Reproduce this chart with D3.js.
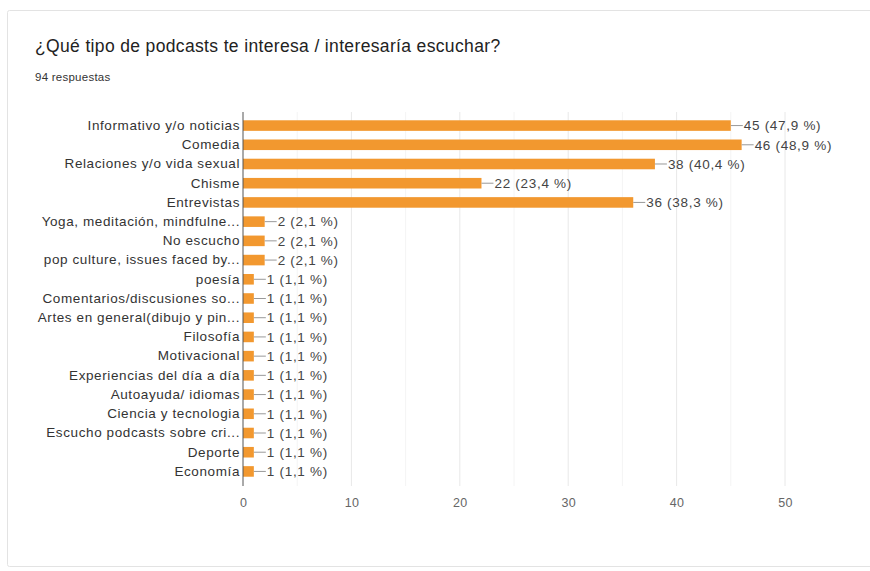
<!DOCTYPE html>
<html><head><meta charset="utf-8">
<script src="https://cdn.jsdelivr.net/npm/d3@7"></script>
<style>body{margin:0;background:#fff;}svg{display:block;font-family:"Liberation Sans", Arial, sans-serif;}</style>
</head><body><svg id="c" width="870" height="571"></svg>
<script>
const categories = ["Informativo y/o noticias","Comedia","Relaciones y/o vida sexual","Chisme","Entrevistas","Yoga, meditación, mindfulne...","No escucho","pop culture, issues faced by...","poesía","Comentarios/discusiones so...","Artes en general(dibujo y pin...","Filosofía","Motivacional","Experiencias del día a día","Autoayuda/ idiomas","Ciencia y tecnologia","Escucho podcasts sobre cri...","Deporte","Economía"];
const values = [45,46,38,22,36,2,2,2,1,1,1,1,1,1,1,1,1,1,1];
const percents = ["47,9","48,9","40,4","23,4","38,3","2,1","2,1","2,1","1,1","1,1","1,1","1,1","1,1","1,1","1,1","1,1","1,1","1,1","1,1"];
const xTicks = [0,10,20,30,40,50];
const title = "¿Qué tipo de podcasts te interesa / interesaría escuchar?";
const subtitle = "94 respuestas";
const FF = "'Liberation Sans', Arial, sans-serif";

const svg = d3.select("#c");
svg.append("rect").attr("x",7.5).attr("y",10.5).attr("width",880).attr("height",556)
  .attr("fill","#fff").attr("stroke","#e3e3e3").attr("rx",2);
svg.append("text").attr("x",35).attr("y",52).attr("font-size",17.5).attr("letter-spacing",0.35).attr("fill","#222").text(title);
svg.append("text").attr("x",35).attr("y",81).attr("font-size",11.5).attr("letter-spacing",0.25).attr("fill","#333").text(subtitle);

const pL = 243, pR = 785, pT = 115, pB = 482;
const x = d3.scaleLinear().domain([0,50]).range([pL,pR]);
const y = d3.scaleBand().domain(categories).range([pT,pB]).paddingInner(0.45).paddingOuter(0.275);

const g = svg.append("g");
g.selectAll("line.minor").data(d3.range(5,50,10)).join("line").attr("class","minor")
  .attr("x1",d=>x(d)).attr("x2",d=>x(d)).attr("y1",pT-3).attr("y2",pB+4)
  .attr("stroke","#f4f4f4");
g.selectAll("line.major").data(xTicks.slice(1)).join("line").attr("class","major")
  .attr("x1",d=>x(d)).attr("x2",d=>x(d)).attr("y1",pT-3).attr("y2",pB+4)
  .attr("stroke","#e8e8e8");

g.selectAll("rect.bar").data(values).join("rect").attr("class","bar")
  .attr("x",x(0)).attr("y",(d,i)=>y(categories[i]))
  .attr("width",d=>x(d)-x(0)).attr("height",y.bandwidth())
  .attr("fill","#f2982f");

g.selectAll("line.lead").data(values).join("line").attr("class","lead")
  .attr("x1",d=>x(d)).attr("x2",d=>x(d)+12)
  .attr("y1",(d,i)=>y(categories[i])+y.bandwidth()/2)
  .attr("y2",(d,i)=>y(categories[i])+y.bandwidth()/2)
  .attr("stroke","#999");
g.selectAll("text.val").data(values).join("text").attr("class","val")
  .attr("x",d=>x(d)+13).attr("y",(d,i)=>y(categories[i])+y.bandwidth()/2)
  .attr("dy","0.35em").attr("font-size",13.5).attr("letter-spacing",0.7).attr("fill","#444")
  .text((d,i)=>`${d} (${percents[i]} %)`);

const ya = svg.append("g").attr("transform",`translate(${pL},0)`).call(d3.axisLeft(y).tickSize(0).tickPadding(3));
ya.select(".domain").remove();
ya.selectAll("text").attr("font-size",13.5).attr("letter-spacing",0.6).attr("fill","#333").attr("font-family",FF);
svg.append("line").attr("x1",pL).attr("x2",pL).attr("y1",pT-3).attr("y2",pB+4).attr("stroke","#555");

const xa = svg.append("g").attr("transform",`translate(0,${pB+4})`).call(d3.axisBottom(x).tickValues(xTicks).tickSize(0).tickPadding(12));
xa.select(".domain").remove();
xa.selectAll("text").attr("font-size",12.5).attr("letter-spacing",0.3).attr("fill","#666").attr("font-family",FF);
</script></body></html>
